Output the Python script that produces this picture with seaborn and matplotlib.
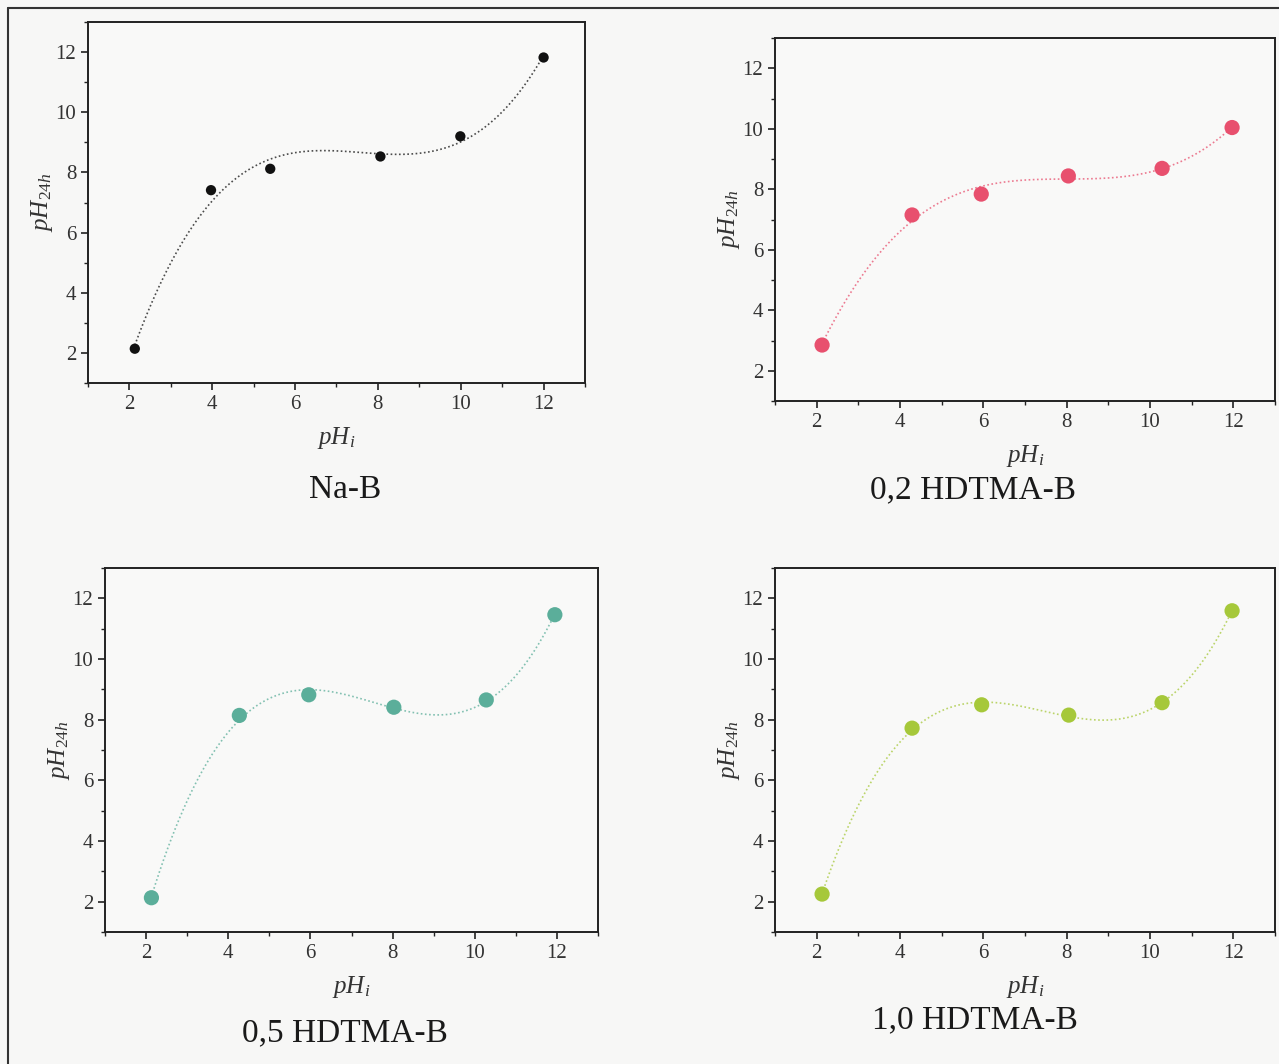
"""Final pH (after 24 h) versus initial pH for Na-B and the HDTMA-modified samples."""
import numpy as np
import pandas as pd
import matplotlib.pyplot as plt
import seaborn as sns
from matplotlib.ticker import MultipleLocator

# initial pH (x) and pH after 24 h (y)
ph_i_nab = [2.13, 3.97, 5.40, 8.06, 9.99, 12.0]
ph_24_nab = [2.14, 7.41, 8.12, 8.53, 9.20, 11.82]

ph_i_02 = [2.13, 4.29, 5.95, 8.04, 10.29, 11.97]
ph_24_02 = [2.85, 7.15, 7.84, 8.44, 8.69, 10.04]

ph_i_05 = [2.13, 4.27, 5.96, 8.03, 10.28, 11.95]
ph_24_05 = [2.13, 8.14, 8.82, 8.41, 8.65, 11.46]

ph_i_10 = [2.13, 4.29, 5.96, 8.05, 10.29, 11.97]
ph_24_10 = [2.25, 7.72, 8.49, 8.15, 8.56, 11.59]

sample_names = ['Na-B', '0,2 HDTMA-B', '0,5 HDTMA-B', '1,0 HDTMA-B']
sample_colors = ['#111111', '#E8506E', '#5BAE9A', '#A6C83A']

panels = [
    (ph_i_nab, ph_24_nab),
    (ph_i_02, ph_24_02),
    (ph_i_05, ph_24_05),
    (ph_i_10, ph_24_10),
]

# axes boxes in figure pixels: left, right, top, bottom
W, H = 1279, 1064
boxes = [
    (88, 585, 22, 383),
    (775, 1275, 38, 401),
    (105, 598, 568, 932),
    (775, 1275, 568, 932),
]
# sample name positions (pixels, centre)
name_pos = [(345, 490), (973, 490), (345, 1033), (975, 1020)]
marker_sizes = [55, 120, 120, 120]

sns.set_theme(style='white')
plt.rcParams['font.family'] = ['Liberation Serif', 'DejaVu Serif']
plt.rcParams['mathtext.fontset'] = 'custom'
plt.rcParams['mathtext.it'] = 'Liberation Serif:italic'
plt.rcParams['mathtext.rm'] = 'Liberation Serif'

fig = plt.figure(figsize=(W / 100, H / 100), dpi=100, facecolor='#f7f7f6')

# page border lines from the scan
fig.add_artist(plt.Line2D([8 / W, 1], [1 - 8 / H, 1 - 8 / H], color='#333333', lw=1.5))
fig.add_artist(plt.Line2D([8 / W, 8 / W], [0, 1 - 8 / H], color='#333333', lw=1.5))

for k, ((xs, ys), name, col, box) in enumerate(zip(panels, sample_names, sample_colors, boxes)):
    l, r, t, b = box
    ax = fig.add_axes([l / W, 1 - b / H, (r - l) / W, (b - t) / H])
    ax.set_facecolor('#f9f9f8')
    df = pd.DataFrame({'pHi': xs, 'pH24': ys})
    sns.regplot(data=df, x='pHi', y='pH24', order=3, ci=None, ax=ax,
                scatter=False,
                line_kws=dict(color=col, lw=1.2, ls=(0, (1, 1.5)), alpha=0.75))
    sns.scatterplot(data=df, x='pHi', y='pH24', ax=ax, color=col,
                    s=marker_sizes[k], edgecolor='none', zorder=3)
    ax.set_xlim(1, 13)
    ax.set_ylim(1, 13)
    ax.set_xticks([2, 4, 6, 8, 10, 12])
    ax.set_yticks([2, 4, 6, 8, 10, 12])
    ax.xaxis.set_minor_locator(MultipleLocator(1))
    ax.yaxis.set_minor_locator(MultipleLocator(1))
    ax.tick_params(which='major', direction='out', length=5, width=1.2,
                   labelsize=15, color='#222222', labelcolor='#333333',
                   bottom=True, left=True)
    ax.tick_params(which='minor', direction='out', length=3, width=1.0,
                   color='#222222', bottom=True, left=True)
    for s in ax.spines.values():
        s.set_color('#222222')
        s.set_linewidth(1.4)
    ax.set_xlabel(r'$pH_i$', fontsize=18, color='#333333', labelpad=8)
    ax.set_ylabel(r'$pH_{24h}$', fontsize=18, color='#333333', labelpad=0)
    nx, ny = name_pos[k]
    fig.text(nx / W, 1 - ny / H, name, ha='center', va='center',
             fontsize=24, color='#1a1a1a')

fig.savefig('out.png', dpi=100, facecolor=fig.get_facecolor())
